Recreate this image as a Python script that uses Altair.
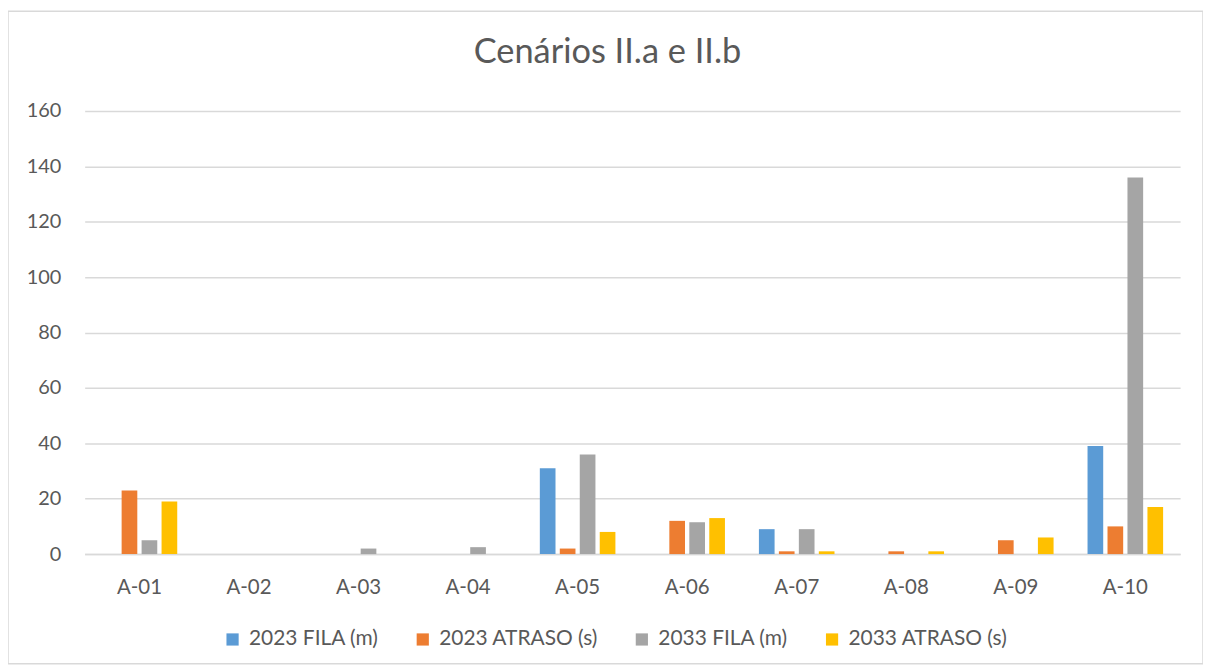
import altair as alt
import pandas as pd

categories = ["A-01", "A-02", "A-03", "A-04", "A-05", "A-06", "A-07", "A-08", "A-09", "A-10"]
series_names = ["2023 FILA (m)", "2023 ATRASO (s)", "2033 FILA (m)", "2033 ATRASO (s)"]
fila_2023 = [0, 0, 0, 0, 31, 0, 9, 0, 0, 39]
atraso_2023 = [23, 0, 0, 0, 2, 12, 1, 1, 5, 10]
fila_2033 = [5, 0, 2, 2.5, 36, 11.5, 9, 0, 0, 136]
atraso_2033 = [19, 0, 0, 0, 8, 13, 1, 1, 6, 17]
colors = ["#5B9BD5", "#ED7D31", "#A5A5A5", "#FFC000"]
y_ticks = [0, 20, 40, 60, 80, 100, 120, 140, 160]
title_text = "Cenários II.a e II.b"

rows = []
for s, vals in zip(series_names, [fila_2023, atraso_2023, fila_2033, atraso_2033]):
    for c, v in zip(categories, vals):
        rows.append({"Ponto": c, "Série": s, "Valor": v})
df = pd.DataFrame(rows)

FONT = "Lato"
TXT = "#595959"

bars = alt.Chart(df).mark_bar().encode(
    x=alt.X("Ponto:N", sort=categories, title=None,
            scale=alt.Scale(paddingInner=0.31, paddingOuter=0.155),
            axis=alt.Axis(labelAngle=0, ticks=False, domainColor="#d9d9d9", domainWidth=1.5,
                          labelPadding=24, labelFontSize=20.5, labelColor=TXT, labelFont=FONT)),
    xOffset=alt.XOffset("Série:N", sort=series_names,
                        scale=alt.Scale(paddingInner=0.215, paddingOuter=0)),
    y=alt.Y("Valor:Q", title=None,
            scale=alt.Scale(domain=[0, 160], nice=False),
            axis=alt.Axis(values=y_ticks, domain=False, ticks=False, gridColor="#d9d9d9",
                          gridWidth=1.5, labelPadding=24, labelFontSize=20,
                          labelColor=TXT, labelFont=FONT)),
    color=alt.Color("Série:N", sort=series_names,
                    scale=alt.Scale(domain=series_names, range=colors),
                    legend=alt.Legend(title=None, orient="none", direction="horizontal",
                                      legendX=138, legendY=520, symbolType="square",
                                      symbolSize=150, symbolStrokeWidth=0,
                                      labelFontSize=21, labelColor=TXT, labelFont=FONT,
                                      columnPadding=33, labelOffset=6)),
)

border = alt.Chart(pd.DataFrame({"k": [0]})).mark_rect(
    fill=None, stroke="#d9d9d9", strokeWidth=1.5
).encode(
    x=alt.value(-77), x2=alt.value(1123), y=alt.value(-100), y2=alt.value(555)
)

title = alt.Chart(pd.DataFrame({"t": [title_text]})).mark_text(
    font=FONT, fontSize=34.5, color=TXT, align="center", baseline="alphabetic"
).encode(
    text="t:N", x=alt.value(525), y=alt.value(-48)
)

chart = alt.layer(border, bars, title).properties(
    width=1100, height=445,
    padding={"left": 77, "top": 102, "right": 23, "bottom": 110},
    autosize=alt.AutoSizeParams(type="none"),
).configure_view(stroke=None).configure_axisY(grid=True).configure_axisX(grid=False)

chart.save("out.html", embed_options={"renderer": "svg", "actions": False})
